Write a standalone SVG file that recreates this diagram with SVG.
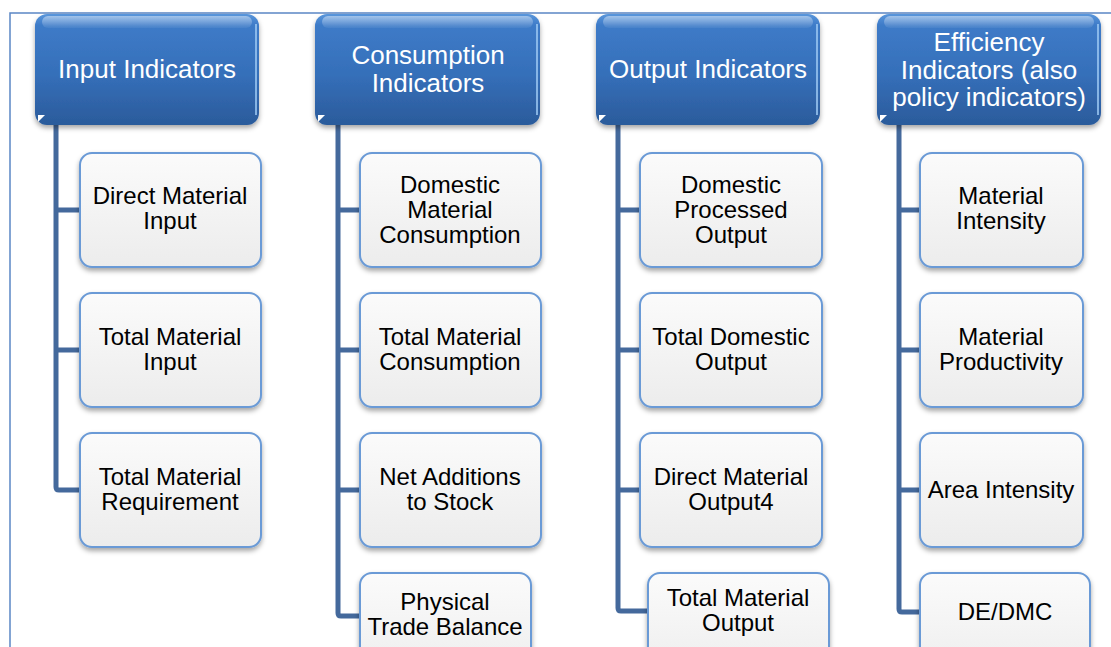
<svg xmlns="http://www.w3.org/2000/svg" width="1111" height="647" viewBox="0 0 1111 647">
<defs>
<linearGradient id="hg" x1="0" y1="0" x2="0" y2="1">
<stop offset="0" stop-color="#5a97dc"/>
<stop offset="0.1" stop-color="#3e7bc8"/>
<stop offset="0.55" stop-color="#356fb9"/>
<stop offset="1" stop-color="#2b5b9b"/>
</linearGradient>
<linearGradient id="gloss" x1="0" y1="0" x2="0" y2="1">
<stop offset="0" stop-color="#ffffff" stop-opacity="0.45"/>
<stop offset="1" stop-color="#ffffff" stop-opacity="0.05"/>
</linearGradient>
<linearGradient id="cg" x1="0" y1="0" x2="0" y2="1">
<stop offset="0" stop-color="#fbfbfb"/>
<stop offset="1" stop-color="#ececec"/>
</linearGradient>
<filter id="sh" x="-10%" y="-10%" width="120%" height="130%">
<feDropShadow dx="0" dy="3" stdDeviation="2.5" flood-color="#000" flood-opacity="0.35"/>
</filter>
</defs>
<style>
.frame{fill:none;stroke:#5b87c5;stroke-width:1.5}
.hdr{fill:url(#hg);filter:url(#sh)}
.gl{fill:url(#gloss)}
.edge{fill:none;stroke:#9cc8f2;stroke-width:2;stroke-opacity:0.8}
.tri{fill:#ffffff}
.box{fill:url(#cg);stroke:#6a9ad6;stroke-width:2;filter:url(#sh)}
.conn{fill:none;stroke:#44699c;stroke-width:5;stroke-linejoin:round}
.ht{font-family:"Liberation Sans",Arial,sans-serif;font-size:26px;fill:#ffffff;text-anchor:middle}
.ct{font-family:"Liberation Sans",Arial,sans-serif;font-size:24px;fill:#000000;text-anchor:middle}
</style>
<rect width="1111" height="647" fill="#ffffff"/>
<path class="frame" d="M10,647 V13 H1111"/>

<g id="connectors">
<path class="conn" d="M56,125 V487 Q56,490 59,490 H80"/>
<path class="conn" d="M56,210 H80 M56,350 H80"/>
<path class="conn" d="M338,125 V613 Q338,616 341,616 H360"/>
<path class="conn" d="M338,210 H360 M338,350 H360 M338,490 H360"/>
<path class="conn" d="M618,125 V608 Q618,611 621,611 H648"/>
<path class="conn" d="M618,210 H640 M618,350 H640 M618,490 H640"/>
<path class="conn" d="M899,125 V609 Q899,612 902,612 H920"/>
<path class="conn" d="M899,210 H920 M899,350 H920 M899,490 H920"/>
</g>

<g id="h-input">
<rect class="hdr" x="35" y="14" width="224" height="111" rx="12"/>
<rect class="gl" x="42" y="16" width="210" height="12" rx="6"/>
<path class="edge" d="M256,24 V115"/>
<path class="tri" d="M38,122 L38,115 L45,115 Z"/>
<text class="ht" x="147" y="78">Input Indicators</text>
</g>
<g id="h-consumption">
<rect class="hdr" x="315" y="14" width="225" height="111" rx="12"/>
<rect class="gl" x="322" y="16" width="211" height="12" rx="6"/>
<path class="edge" d="M537,24 V115"/>
<path class="tri" d="M318,122 L318,115 L325,115 Z"/>
<text class="ht" x="428" y="64">Consumption</text>
<text class="ht" x="428" y="92">Indicators</text>
</g>
<g id="h-output">
<rect class="hdr" x="596" y="14" width="224" height="111" rx="12"/>
<rect class="gl" x="603" y="16" width="210" height="12" rx="6"/>
<path class="edge" d="M817,24 V115"/>
<path class="tri" d="M599,122 L599,115 L606,115 Z"/>
<text class="ht" x="708" y="78">Output Indicators</text>
</g>
<g id="h-efficiency">
<rect class="hdr" x="877" y="14" width="224" height="111" rx="12"/>
<rect class="gl" x="884" y="16" width="210" height="12" rx="6"/>
<path class="edge" d="M1098,24 V115"/>
<path class="tri" d="M880,122 L880,115 L887,115 Z"/>
<text class="ht" x="989" y="51">Efficiency</text>
<text class="ht" x="989" y="78.5">Indicators (also</text>
<text class="ht" x="989" y="106">policy indicators)</text>
</g>

<g id="n-dmi"><rect class="box" x="80" y="153" width="181" height="114" rx="12"/>
<text class="ct" x="170" y="204">Direct Material</text><text class="ct" x="170" y="229">Input</text></g>
<g id="n-tmi"><rect class="box" x="80" y="293" width="181" height="114" rx="12"/>
<text class="ct" x="170" y="345">Total Material</text><text class="ct" x="170" y="370">Input</text></g>
<g id="n-tmr"><rect class="box" x="80" y="433" width="181" height="114" rx="12"/>
<text class="ct" x="170" y="485">Total Material</text><text class="ct" x="170" y="510">Requirement</text></g>

<g id="n-dmc"><rect class="box" x="360" y="153" width="181" height="114" rx="12"/>
<text class="ct" x="450" y="193">Domestic</text><text class="ct" x="450" y="218">Material</text><text class="ct" x="450" y="243">Consumption</text></g>
<g id="n-tmc"><rect class="box" x="360" y="293" width="181" height="114" rx="12"/>
<text class="ct" x="450" y="345">Total Material</text><text class="ct" x="450" y="370">Consumption</text></g>
<g id="n-nas"><rect class="box" x="360" y="433" width="181" height="114" rx="12"/>
<text class="ct" x="450" y="485">Net Additions</text><text class="ct" x="450" y="510">to Stock</text></g>
<g id="n-ptb"><rect class="box" x="360" y="573" width="171" height="114" rx="12"/>
<text class="ct" x="445" y="610">Physical</text><text class="ct" x="445" y="635">Trade Balance</text></g>

<g id="n-dpo"><rect class="box" x="640" y="153" width="182" height="114" rx="12"/>
<text class="ct" x="731" y="193">Domestic</text><text class="ct" x="731" y="218">Processed</text><text class="ct" x="731" y="243">Output</text></g>
<g id="n-tdo"><rect class="box" x="640" y="293" width="182" height="114" rx="12"/>
<text class="ct" x="731" y="345">Total Domestic</text><text class="ct" x="731" y="370">Output</text></g>
<g id="n-dmo"><rect class="box" x="640" y="433" width="182" height="114" rx="12"/>
<text class="ct" x="731" y="485">Direct Material</text><text class="ct" x="731" y="510">Output4</text></g>
<g id="n-tmo"><rect class="box" x="648" y="573" width="181" height="114" rx="12"/>
<text class="ct" x="738" y="606">Total Material</text><text class="ct" x="738" y="631">Output</text></g>

<g id="n-mi"><rect class="box" x="920" y="153" width="163" height="114" rx="12"/>
<text class="ct" x="1001" y="204">Material</text><text class="ct" x="1001" y="229">Intensity</text></g>
<g id="n-mp"><rect class="box" x="920" y="293" width="163" height="114" rx="12"/>
<text class="ct" x="1001" y="345">Material</text><text class="ct" x="1001" y="370">Productivity</text></g>
<g id="n-ai"><rect class="box" x="920" y="433" width="163" height="114" rx="12"/>
<text class="ct" x="1001" y="498">Area Intensity</text></g>
<g id="n-dedmc"><rect class="box" x="920" y="573" width="170" height="114" rx="12"/>
<text class="ct" x="1005" y="620">DE/DMC</text></g>
</svg>
